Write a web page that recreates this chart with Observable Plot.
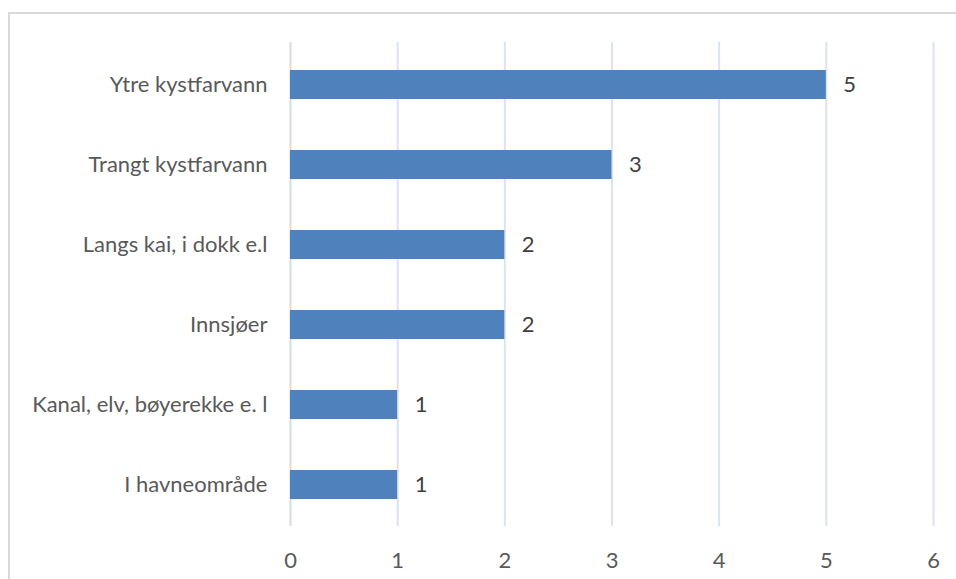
<!DOCTYPE html>
<html><head><meta charset="utf-8">
<script src="https://cdn.jsdelivr.net/npm/d3@7"></script>
<script src="https://cdn.jsdelivr.net/npm/@observablehq/plot@0.6"></script>
<style>
body{margin:0;background:#fff;overflow:hidden}
#wrap{position:relative;width:956px;height:579px}
#border{position:absolute;left:8px;top:12px;width:1000px;height:1000px;border:2px solid #d9d9d9;box-sizing:border-box}
#chart{position:absolute;left:0;top:0}
</style></head>
<body><div id="wrap"><div id="border"></div><div id="chart"></div></div>
<script>
const categories = ["Ytre kystfarvann","Trangt kystfarvann","Langs kai, i dokk e.l","Innsjøer","Kanal, elv, bøyerekke e. l","I havneområde"];
const values = [5,3,2,2,1,1];
const xTicks = [0,1,2,3,4,5,6];
const data = categories.map((c,i)=>({cat:c, val:values[i]}));
const font = "Lato, 'Open Sans', sans-serif";
const plot = Plot.plot({
  width:956, height:579,
  marginLeft:290, marginRight:23, marginTop:42, marginBottom:53,
  style:{fontFamily:font, fontSize:"22px", color:"#595959", background:"transparent"},
  x:{domain:[0,6], ticks:xTicks, tickFormat:"d", label:null, tickSize:0, tickPadding:26},
  y:{domain:categories, label:null, tickSize:0, tickPadding:23, paddingInner:0.64, paddingOuter:0.32},
  marks:[
    Plot.ruleX(xTicks.filter(d=>d>0), {stroke:"#dae3f3", strokeWidth:2}),
    Plot.ruleX([0], {stroke:"#d9d9d9", strokeWidth:2}),
    Plot.barX(data, {y:"cat", x:"val", fill:"#4f81bd"}),
    Plot.text(data, {y:"cat", x:"val", text:d=>String(d.val), textAnchor:"start", dx:17, fill:"#404040", fontSize:22})
  ]
});
document.getElementById("chart").appendChild(plot);
</script></body></html>
